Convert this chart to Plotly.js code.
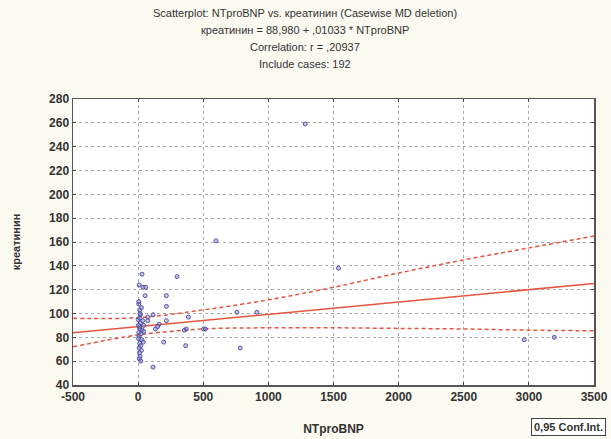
<!DOCTYPE html>
<html>
<head>
<meta charset="utf-8">
<script src="https://cdn.plot.ly/plotly-3.0.1.min.js"></script>
<style>
html,body{margin:0;padding:0;background:#fbfaf1;}
#chart{width:611px;height:439px;}
</style>
</head>
<body>
<div id="chart"></div>
<script>
// Scatter data (NTproBNP, креатинин)
const ntprobnp = [30,8,38,58,54,5,12,18,0,18,43,12,30,43,8,28,12,20,8,25,10,15,8,20,5,15,35,10,22,3,40,15,5,25,2,
  115,74,74,161,150,133,196,115,217,217,217,299,386,370,355,365,503,516,598,759,912,784,1283,1538,2965,3195];
const kreatinin = [133,124,122,122,115,108,103,99,95,92,90,87,86,85,81,78,75,73,71,69,67,64,62,60,84,96,94,89,83,79,76,100,110,105,90,
  99,97,94,91,89,87,76,55,115,106,94,131,97,87,86,73,87,87,161,101,101,71,259,138,78,80];

// Regression line from the title: креатинин = 88,980 + ,01033 * NTproBNP
const intercept = 88.980;
const slope = 0.01033;
const lineX = [-500, 3500];
const lineY = lineX.map(v => intercept + slope * v);

// 0.95 confidence band
const bandX = [-500, 0, 500, 1000, 1500, 2000, 2500, 3000, 3500];
const bandUpper = [96, 96.5, 103, 111.5, 122, 134, 145, 155, 165];
const bandLower = [72, 82, 87, 88, 88, 87.5, 87, 86, 85.5];

const titleLines = [
  "Scatterplot: NTproBNP vs. креатинин (Casewise MD deletion)",
  "креатинин = 88,980 + ,01033 * NTproBNP",
  "Correlation: r = ,20937",
  "Include cases: 192"
];
const xTicks = [-500, 0, 500, 1000, 1500, 2000, 2500, 3000, 3500];
const yTicks = [40, 60, 80, 100, 120, 140, 160, 180, 200, 220, 240, 260, 280];

const FONT = "Liberation Sans, Arial, sans-serif";
const red = "#e8553f";

const traces = [
  {x: bandX, y: bandUpper, type: "scatter", mode: "lines", line: {color: red, width: 1.5, dash: "4px,3px", shape: "spline"}, hoverinfo: "skip"},
  {x: bandX, y: bandLower, type: "scatter", mode: "lines", line: {color: red, width: 1.5, dash: "4px,3px", shape: "spline"}, hoverinfo: "skip"},
  {x: lineX, y: lineY, type: "scatter", mode: "lines", line: {color: red, width: 1.6}},
  {x: ntprobnp, y: kreatinin, type: "scatter", mode: "markers",
   marker: {size: 4, color: "rgba(140,140,215,0.5)", line: {color: "#4a4a9a", width: 0.9}}}
];

const titleY = [13, 30, 47, 64];
const plotTop = 99, plotBot = 385, plotL = 72.5, plotR = 594;
const ph = plotBot - plotTop, pw = plotR - plotL;
const annotations = titleLines.map((t, i) => ({
  text: t, xref: "paper", yref: "paper",
  x: (305 - plotL) / pw, y: (plotBot - titleY[i]) / ph,
  xanchor: "center", yanchor: "middle", showarrow: false,
  font: {family: FONT, size: 11, color: "#333"}
}));
annotations.push({
  text: "0,95 Conf.Int.", xref: "paper", yref: "paper",
  x: (531 - plotL) / pw, y: (plotBot - 427) / ph,
  xanchor: "left", yanchor: "middle", showarrow: false,
  font: {family: FONT, size: 11, color: "#333", weight: "bold"},
  bordercolor: "#444", borderwidth: 1, borderpad: 2, bgcolor: "#ffffff"
});

const axisCommon = {
  showline: true, linecolor: "#555", linewidth: 1.5, mirror: "ticks",
  ticks: "inside", ticklen: 3, tickcolor: "#444",
  showgrid: true, gridcolor: "#aaaaaa", gridwidth: 1, griddash: "dot",
  zeroline: false, tickfont: {family: FONT, size: 12, color: "#333", weight: "bold"}
};

const layout = {
  width: 611, height: 439,
  margin: {l: plotL, r: 611 - plotR, t: plotTop, b: 439 - plotBot, pad: 0},
  paper_bgcolor: "#fbfaf1", plot_bgcolor: "#ffffff",
  showlegend: false,
  xaxis: Object.assign({}, axisCommon, {
    range: [-500, 3500], tickvals: xTicks, ticktext: xTicks.map(String),
    title: {text: "NTproBNP", font: {family: FONT, size: 12, color: "#333", weight: "bold"}, standoff: 21}
  }),
  yaxis: Object.assign({}, axisCommon, {
    range: [40, 280], tickvals: yTicks, ticktext: yTicks.map(String),
    title: {text: "креатинин", font: {family: FONT, size: 11, color: "#333", weight: "bold"}, standoff: 26}
  }),
  annotations: annotations
};

Plotly.newPlot("chart", traces, layout, {displayModeBar: false, staticPlot: true});
</script>
</body>
</html>
